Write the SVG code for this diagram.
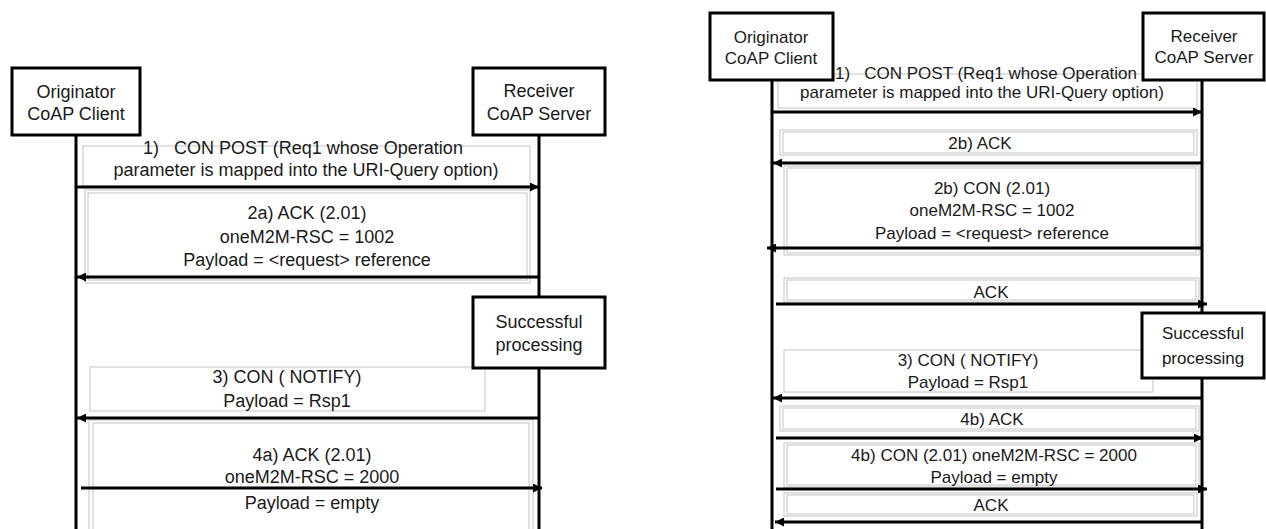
<svg xmlns="http://www.w3.org/2000/svg" width="1266" height="529" viewBox="0 0 1266 529">
<style>
text{font-family:"Liberation Sans",Arial,sans-serif;fill:#1a1a1a;text-anchor:middle}
.l{font-size:18px}
.r{font-size:17px}
.node{fill:#fff;stroke:#000;stroke-width:3}
.life{stroke:#000;stroke-width:3;fill:none}
.msg{stroke:#000;stroke-width:3;fill:none}
.lbl{fill:#fff;stroke:#c4c4c4;stroke-width:1}
</style>
<defs>
<marker id="ah" viewBox="0 0 10 10" refX="10" refY="5" markerWidth="9" markerHeight="9" markerUnits="userSpaceOnUse" orient="auto">
<path d="M0,0 L10,5 L0,10 z" fill="#000"/>
</marker>
</defs>
<rect width="1266" height="529" fill="#fff"/>

<g id="lifelines">
<line class="life" x1="76" y1="135" x2="76" y2="529"/>
<line class="life" x1="539" y1="135" x2="539" y2="529"/>
<line class="life" x1="772" y1="80" x2="772" y2="529"/>
<line class="life" x1="1202" y1="80" x2="1202" y2="529"/>
</g>

<g id="labels-left" class="l">
<rect class="lbl" x="83" y="146" width="447" height="40"/>
<text xml:space="preserve" x="303" y="154">1)   CON POST (Req1 whose Operation</text>
<text x="306" y="176">parameter is mapped into the URI-Query option)</text>
<rect class="lbl" x="85" y="190" width="445" height="93"/>
<rect class="lbl" x="88" y="193" width="439" height="87"/>
<text x="307" y="219">2a) ACK (2.01)</text>
<text x="307" y="243">oneM2M-RSC = 1002</text>
<text x="307" y="266">Payload = &lt;request&gt; reference</text>
<rect class="lbl" x="90" y="367" width="395" height="44"/>
<text x="287" y="383">3) CON ( NOTIFY)</text>
<text x="287" y="407">Payload = Rsp1</text>
<rect class="lbl" x="89" y="420" width="444" height="115"/>
<rect class="lbl" x="93" y="423" width="436" height="112"/>
<text x="312" y="461">4a) ACK (2.01)</text>
<text x="312" y="483">oneM2M-RSC = 2000</text>
<text x="312" y="509">Payload = empty</text>
</g>

<g id="labels-right" class="r">
<rect class="lbl" x="778" y="74" width="419" height="34"/>
<text xml:space="preserve" x="986" y="79">1)   CON POST (Req1 whose Operation</text>
<text x="982" y="98">parameter is mapped into the URI-Query option)</text>
<rect class="lbl" x="780" y="130" width="417" height="25"/>
<rect class="lbl" x="783" y="132" width="411" height="21"/>
<text x="980" y="149">2b) ACK</text>
<rect class="lbl" x="784" y="166" width="415" height="89"/>
<rect class="lbl" x="787" y="168" width="409" height="85"/>
<text x="992" y="194">2b) CON (2.01)</text>
<text x="992" y="216">oneM2M-RSC = 1002</text>
<text x="992" y="239">Payload = &lt;request&gt; reference</text>
<rect class="lbl" x="784" y="278" width="415" height="24"/>
<rect class="lbl" x="787" y="280" width="409" height="20"/>
<text x="991" y="298">ACK</text>
<rect class="lbl" x="784" y="350" width="369" height="42"/>
<text x="968" y="366">3) CON ( NOTIFY)</text>
<text x="968" y="388">Payload = Rsp1</text>
<rect class="lbl" x="780" y="406" width="419" height="25"/>
<rect class="lbl" x="783" y="408" width="413" height="21"/>
<text x="992" y="425">4b) ACK</text>
<rect class="lbl" x="784" y="443" width="415" height="44"/>
<rect class="lbl" x="787" y="445" width="409" height="40"/>
<text x="994" y="461">4b) CON (2.01) oneM2M-RSC = 2000</text>
<text x="994" y="483">Payload = empty</text>
<rect class="lbl" x="784" y="493" width="413" height="23"/>
<rect class="lbl" x="787" y="495" width="407" height="19"/>
<text x="991" y="511">ACK</text>
</g>

<g id="connectors">
<line class="msg" x1="76" y1="187" x2="539" y2="187" marker-end="url(#ah)"/>
<line class="msg" x1="539" y1="277" x2="77" y2="277" marker-end="url(#ah)"/>
<line class="msg" x1="539" y1="418" x2="77" y2="418" marker-end="url(#ah)"/>
<line class="msg" x1="81" y1="488" x2="542" y2="488" marker-end="url(#ah)"/>
<line class="msg" x1="772" y1="112" x2="1202" y2="112" marker-end="url(#ah)"/>
<line class="msg" x1="1202" y1="163" x2="773" y2="163" marker-end="url(#ah)"/>
<line class="msg" x1="1202" y1="248" x2="767" y2="248" marker-end="url(#ah)"/>
<line class="msg" x1="776" y1="304" x2="1207" y2="304" marker-end="url(#ah)"/>
<line class="msg" x1="1202" y1="398" x2="773" y2="398" marker-end="url(#ah)"/>
<line class="msg" x1="776" y1="438" x2="1203" y2="438" marker-end="url(#ah)"/>
<line class="msg" x1="776" y1="489" x2="1207" y2="489" marker-end="url(#ah)"/>
<line class="msg" x1="1202" y1="522" x2="775" y2="522" marker-end="url(#ah)"/>
</g>

<g id="originator-left" class="l">
<rect class="node" x="12" y="68" width="128" height="67"/>
<text x="76" y="98">Originator</text>
<text x="76" y="120">CoAP Client</text>
</g>
<g id="receiver-left" class="l">
<rect class="node" x="473" y="68" width="132" height="67"/>
<text x="539" y="97">Receiver</text>
<text x="539" y="120">CoAP Server</text>
</g>
<g id="processing-left" class="l">
<rect class="node" x="473" y="297" width="132" height="71"/>
<text x="539" y="328">Successful</text>
<text x="539" y="351">processing</text>
</g>
<g id="originator-right" class="r">
<rect class="node" x="710" y="13" width="123" height="67"/>
<text x="771" y="43">Originator</text>
<text x="771" y="64">CoAP Client</text>
</g>
<g id="receiver-right" class="r">
<rect class="node" x="1143" y="13" width="121" height="67"/>
<text x="1204" y="42">Receiver</text>
<text x="1204" y="63">CoAP Server</text>
</g>
<g id="processing-right" class="r">
<rect class="node" x="1142" y="313" width="122" height="65"/>
<text x="1203" y="339">Successful</text>
<text x="1203" y="364">processing</text>
</g>
</svg>
